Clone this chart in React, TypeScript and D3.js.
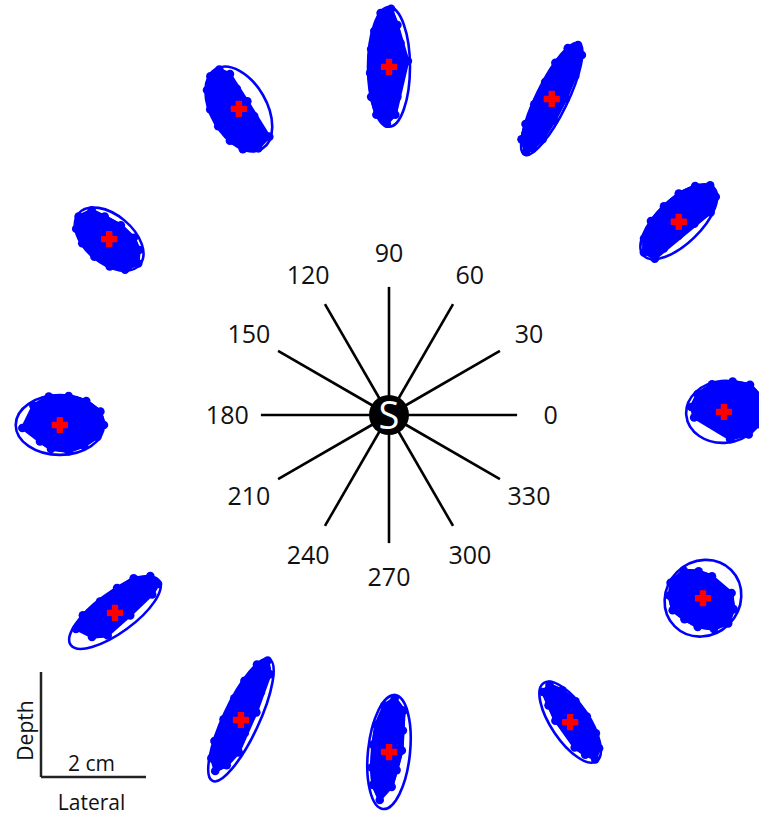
import React from 'react';
import * as d3 from 'd3';

// Target directions (degrees) and their labels
const angles = [0, 30, 60, 90, 120, 150, 180, 210, 240, 270, 300, 330];
const angleLabels = ['0', '30', '60', '90', '120', '150', '180', '210', '240', '270', '300', '330'];

// Mean position of each cluster (cm, lateral / depth relative to S)
const meanX = [6.38, 5.52, 3.1, 0.0, -2.86, -5.33, -6.27, -5.22, -2.82, 0.0, 3.45, 5.98];
const meanY = [0.06, 3.68, 6.02, 6.63, 5.83, 3.35, -0.19, -3.77, -5.81, -6.42, -5.85, -3.49];

// Confidence ellipses (cm) and tilt (deg, counter-clockwise)
const semiMajor = [0.72, 0.93, 1.18, 1.14, 0.88, 0.76, 0.84, 1.04, 1.28, 1.09, 0.9, 0.76];
const semiMinor = [0.59, 0.42, 0.3, 0.4, 0.53, 0.46, 0.57, 0.38, 0.34, 0.4, 0.36, 0.7];
const tilt = [5, 44, 64, 90, 120, 140, 0, 36, 65, 84, 124, 45];

// Localisation samples per cluster, in ellipse-axis units (along major, along minor)
const samples: number[][][] = [
  [[-0.85, 0.25], [-0.65, 0.65], [-0.25, 0.92], [0.3, 0.95], [0.75, 0.8], [1.0, 0.4], [1.0, 0], [0.9, -0.5], [0.6, -0.8], [0.3, -0.6], [0.1, -0.9], [-0.15, -0.55], [-0.45, -0.25], [-0.8, -0.1], [-0.3, 0.3], [0.2, 0.4], [0.5, 0.1], [0.2, -0.2], [0.7, 0.45], [-0.1, 0.6]],
  [[-0.95, 0.1], [-0.75, 0.55], [-0.4, 0.9], [0, 0.97], [0.4, 0.92], [0.75, 0.65], [0.98, 0.2], [0.9, -0.35], [0.6, -0.7], [0.2, -0.55], [-0.2, -0.45], [-0.6, -0.4], [-0.88, -0.45], [-0.5, 0.1], [0, 0.3], [0.5, 0.2], [0.3, -0.1], [-0.3, 0.5], [0.7, -0.1], [-0.7, -0.05]],
  [[-0.95, 0], [-0.8, 0.6], [-0.55, 0.8], [-0.2, 0.85], [0.2, 0.85], [0.55, 0.8], [0.85, 0.5], [0.97, 0], [0.85, -0.5], [0.5, -0.7], [0.1, -0.8], [-0.3, -0.75], [-0.65, -0.6], [-0.85, -0.3], [-0.5, 0.2], [0, 0.1], [0.4, 0.2], [0.7, -0.1], [-0.2, -0.3], [0.3, -0.3]],
  [[-0.95, 0.1], [-0.8, 0.6], [-0.5, 0.85], [-0.1, 0.9], [0.3, 0.85], [0.6, 0.7], [0.9, 0.4], [0.97, -0.1], [0.7, -0.4], [0.4, -0.55], [0.1, -0.9], [-0.2, -0.45], [-0.5, -0.4], [-0.8, -0.3], [-0.6, 0.3], [-0.2, 0.4], [0.2, 0.2], [0.5, 0.1], [0.8, 0.1], [-0.35, 0.0]],
  [[-0.95, 0.1], [-0.8, 0.6], [-0.5, 0.85], [-0.1, 0.95], [0.3, 0.9], [0.7, 0.65], [0.92, 0.3], [0.95, -0.1], [0.75, -0.35], [0.4, -0.3], [0.05, -0.4], [-0.3, -0.35], [-0.65, -0.25], [-0.85, -0.45], [-0.5, 0.3], [-0.1, 0.4], [0.3, 0.3], [0.6, 0.1], [0.1, 0.0], [-0.3, 0.65]],
  [[-0.95, 0], [-0.8, 0.55], [-0.45, 0.85], [0, 0.95], [0.45, 0.85], [0.8, 0.55], [0.95, 0.1], [0.8, -0.45], [0.45, -0.6], [0, -0.75], [-0.45, -0.7], [-0.75, -0.45], [-0.4, 0.2], [0.1, 0.4], [0.5, 0.2], [0.2, -0.3], [-0.2, -0.2], [0.6, -0.15]],
  [[-0.6, 0.65], [-0.25, 0.95], [0.2, 0.97], [0.6, 0.8], [0.92, 0.45], [1.0, 0], [0.85, -0.4], [0.55, -0.7], [0.2, -0.88], [-0.2, -0.8], [-0.45, -0.55], [-0.5, -0.1], [-0.85, -0.1], [-0.2, 0.3], [0.3, 0.35], [0.5, 0], [0.1, -0.3], [-0.3, 0.0], [0.7, 0.2], [-0.45, 0.4]],
  [[-0.75, 0.5], [-0.5, 0.85], [-0.1, 0.9], [0.3, 0.95], [0.65, 0.85], [0.92, 0.45], [0.95, -0.1], [0.75, -0.35], [0.45, -0.2], [0.2, -0.55], [-0.1, -0.4], [-0.35, -0.7], [-0.6, -0.3], [-0.4, 0.2], [0, 0.35], [0.4, 0.4], [0.7, 0.1], [-0.2, -0.1], [0.15, 0.05]],
  [[-0.7, 0.6], [-0.45, 0.85], [-0.1, 0.9], [0.25, 0.85], [0.55, 0.75], [0.85, 0.5], [0.97, 0.05], [0.8, -0.4], [0.5, -0.35], [0.2, -0.6], [-0.15, -0.5], [-0.45, -0.65], [-0.7, -0.35], [-0.85, 0.1], [-0.4, 0.2], [0, 0.3], [0.35, 0.2], [0.65, 0.1], [-0.15, -0.05]],
  [[-0.85, 0.2], [-0.6, 0.6], [-0.3, 0.75], [0.1, 0.8], [0.45, 0.75], [0.8, 0.45], [0.95, 0], [0.75, -0.5], [0.4, -0.55], [0.05, -0.6], [-0.3, -0.45], [-0.6, -0.3], [-0.35, 0.1], [0.1, 0.2], [0.5, 0.1], [0.25, -0.2], [-0.1, -0.1]],
  [[-0.95, 0], [-0.8, -0.5], [-0.5, -0.8], [-0.1, -0.9], [0.3, -0.85], [0.65, -0.6], [0.9, -0.2], [0.85, 0.3], [0.55, 0.45], [0.2, 0.6], [-0.15, 0.4], [-0.5, 0.55], [-0.75, 0.3], [-0.4, -0.2], [0, -0.3], [0.4, -0.2], [0.3, 0.1], [-0.2, 0.05]],
  [[-0.3, 0.92], [0.15, 0.9], [0.4, 0.6], [0.55, 0.25], [0.45, -0.1], [0.6, -0.45], [0.35, -0.8], [0, -0.97], [-0.35, -0.8], [-0.6, -0.45], [-0.7, -0.05], [-0.75, 0.35], [-0.55, 0.7], [-0.1, 0.4], [0.1, 0.1], [-0.2, -0.3], [0.15, -0.4], [-0.3, 0.1]],
];

const spokeLength = 2.44; // cm
const labelRadius = 3.08; // cm
const scaleBarCm = 2;

const W = 759;
const H = 818;
const CX = 389;
const CY = 415;
const PX_PER_CM = 52.5;

const BLUE = '#0000ff';
const RED = '#ff0000';
const FONT = "'Open Sans', 'DejaVu Sans', sans-serif";

export default function App() {
  const x = d3.scaleLinear().domain([0, 1]).range([CX, CX + PX_PER_CM]);
  const y = d3.scaleLinear().domain([0, 1]).range([CY, CY - PX_PER_CM]);
  const rad = (d: number) => (d * Math.PI) / 180;
  const line = d3.line<[number, number]>().curve(d3.curveLinear);
  const cross = d3.symbol().type(d3.symbolCross).size(120)();

  const clusters = angles.map((ang, i) => {
    const t = rad(tilt[i]);
    const a = semiMajor[i];
    const b = semiMinor[i];
    const pts: [number, number][] = samples[i].map(([u, v]) => {
      const dx = a * u * Math.cos(t) - b * v * Math.sin(t);
      const dy = a * u * Math.sin(t) + b * v * Math.cos(t);
      return [x(meanX[i] + dx), y(meanY[i] + dy)];
    });
    const hull = d3.polygonHull(pts) || pts;
    return {
      ang,
      pts,
      hull,
      cx: x(meanX[i]),
      cy: y(meanY[i]),
      rx: x(a) - x(0),
      ry: x(b) - x(0),
      rot: -tilt[i],
    };
  });

  const barX0 = 41;
  const barY0 = 777;
  const barLen = x(scaleBarCm) - x(0);

  return (
    <svg
      width={W}
      height={H}
      style={{ position: 'absolute', left: 0, top: 0, background: '#fff' }}
    >
      {/* spokes */}
      <g stroke="#000" strokeWidth={2.6}>
        {angles.map((ang) => (
          <line
            key={ang}
            x1={x(0)}
            y1={y(0)}
            x2={x(spokeLength * Math.cos(rad(ang)))}
            y2={y(spokeLength * Math.sin(rad(ang)))}
          />
        ))}
      </g>
      <circle cx={x(0)} cy={y(0)} r={20} fill="#000" />
      <text
        x={x(0)}
        y={y(0)}
        dy="0.37em"
        textAnchor="middle"
        fill="#fff"
        fontFamily={FONT}
        fontSize={38}
      >
        S
      </text>
      {/* angle labels */}
      <g fontFamily={FONT} fontSize={25} fill="#111">
        {angles.map((ang, i) => (
          <text
            key={ang}
            x={x(labelRadius * Math.cos(rad(ang)))}
            y={y(labelRadius * Math.sin(rad(ang)))}
            dy="0.36em"
            textAnchor="middle"
          >
            {angleLabels[i]}
          </text>
        ))}
      </g>
      {/* clusters */}
      {clusters.map((c) => (
        <g key={c.ang}>
          <ellipse
            cx={c.cx}
            cy={c.cy}
            rx={c.rx}
            ry={c.ry}
            transform={`rotate(${c.rot} ${c.cx} ${c.cy})`}
            fill="none"
            stroke={BLUE}
            strokeWidth={2.6}
          />
          <path d={`M${c.hull.join('L')}Z`} fill={BLUE} stroke={BLUE} strokeWidth={3} strokeLinejoin="round" />
          <path d={line(c.pts) || ''} fill="none" stroke={BLUE} strokeWidth={3.5} strokeLinejoin="round" />
          {c.pts.map((p, j) => (
            <circle key={j} cx={p[0]} cy={p[1]} r={4.3} fill={BLUE} />
          ))}
          <path d={cross || ''} transform={`translate(${c.cx},${c.cy})`} fill={RED} stroke={RED} strokeWidth={1.5} strokeLinejoin="round" />
        </g>
      ))}
      {/* scale bar */}
      <g stroke="#222" strokeWidth={2.5} fill="none">
        <line x1={barX0} y1={barY0} x2={barX0} y2={barY0 - barLen} />
        <line x1={barX0} y1={barY0} x2={barX0 + barLen} y2={barY0} />
      </g>
      <g fontFamily={FONT} fontSize={21} fill="#111">
        <text x={barX0 + barLen / 2 - 2} y={barY0 - 6} textAnchor="middle">
          {`${scaleBarCm} cm`}
        </text>
        <text x={barX0 + barLen / 2 - 2} y={barY0 + 33} textAnchor="middle">
          Lateral
        </text>
        <text
          transform={`translate(${barX0 - 8},${barY0 - barLen / 2 + 6}) rotate(-90)`}
          textAnchor="middle"
        >
          Depth
        </text>
      </g>
    </svg>
  );
}
